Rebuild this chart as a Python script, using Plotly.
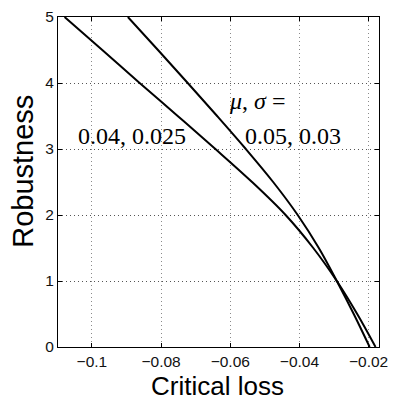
import plotly.graph_objects as go

# Robustness levels (y) and critical loss (x)
robustness = [0, 0.5, 1, 1.5, 2, 2.5, 3, 3.5, 4, 4.5, 5]
loss_a = [-0.0180, -0.0233, -0.0292, -0.0360, -0.0440, -0.0537, -0.0643, -0.0752, -0.0862, -0.0970, -0.1079]  # mu, sigma = 0.04, 0.025
loss_b = [-0.0197, -0.0243, -0.0292, -0.0344, -0.0405, -0.0476, -0.0555, -0.0638, -0.0723, -0.0809, -0.0896]  # mu, sigma = 0.05, 0.03

x_ticks = [-0.1, -0.08, -0.06, -0.04, -0.02]
x_tick_labels = ["\u22120.1", "\u22120.08", "\u22120.06", "\u22120.04", "\u22120.02"]
y_ticks = [0, 1, 2, 3, 4, 5]
y_tick_labels = ["0", "1", "2", "3", "4", "5"]

label_a = "0.04, 0.025"
label_b = "0.05, 0.03"
label_head = "<i>\u03bc</i>, <i>\u03c3</i> ="

fig = go.Figure()
for xs in (loss_a, loss_b):
    fig.add_trace(go.Scatter(x=xs, y=robustness, mode="lines",
                             line=dict(color="black", width=2, shape="spline", smoothing=1),
                             showlegend=False, hoverinfo="skip"))

serif = dict(family="Liberation Serif, Times New Roman, serif", size=24, color="black")
fig.add_annotation(x=-0.0884, y=3.19, text=label_a, showarrow=False, font=serif,
                   xanchor="center", yanchor="middle")
fig.add_annotation(x=-0.0420, y=3.19, text=label_b, showarrow=False, font=serif,
                   xanchor="center", yanchor="middle")
fig.add_annotation(x=-0.0523, y=3.73, text=label_head, showarrow=False, font=serif,
                   xanchor="center", yanchor="middle")

sans = "Liberation Sans, Arial, Helvetica, sans-serif"
fig.add_annotation(xref="paper", yref="paper", x=0.497, y=-0.117, text="Critical loss",
                   showarrow=False, font=dict(family=sans, size=26, color="black"),
                   xanchor="center", yanchor="middle")
fig.add_annotation(xref="paper", yref="paper", x=-0.108, y=0.532, text="Robustness",
                   textangle=-90, showarrow=False, font=dict(family=sans, size=29, color="black"),
                   xanchor="center", yanchor="middle")

axis_common = dict(showline=True, linecolor="black", linewidth=1, mirror="ticks",
                   ticks="inside", ticklen=4, tickcolor="black",
                   showgrid=True, griddash="1px,3px", gridwidth=1,
                   zeroline=False, ticklabeloverflow="allow",
                   tickfont=dict(family=sans, size=15.5, color="#111"))

fig.update_xaxes(range=[-0.1098, -0.0170], tickvals=x_ticks, ticktext=x_tick_labels,
                 gridcolor="#8a8a8a", **axis_common)
fig.update_yaxes(range=[0, 5], tickvals=y_ticks, ticktext=y_tick_labels,
                 gridcolor="#555555", **axis_common)

fig.update_layout(width=396, height=401, margin=dict(l=58, r=8, t=16, b=54),
                  plot_bgcolor="white", paper_bgcolor="white")

fig.write_html("out.html")
